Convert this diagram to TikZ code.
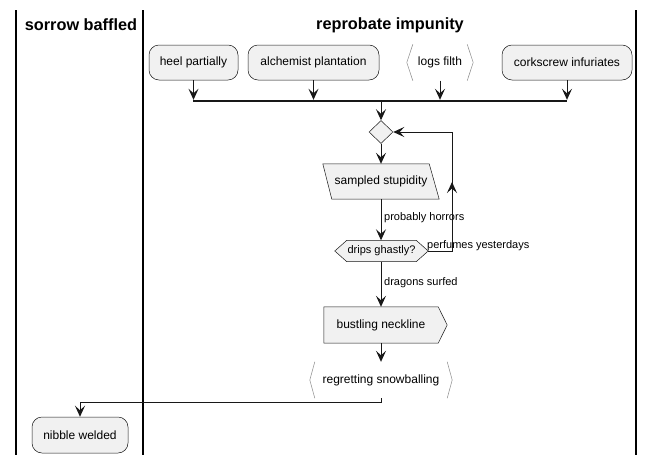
\documentclass[tikz,border=0pt]{standalone}
\usepackage{fontspec}
\setmainfont{Liberation Sans}
\usetikzlibrary{arrows.meta,shapes.geometric}
\definecolor{fillc}{HTML}{F1F1F1}
\definecolor{strokec}{HTML}{181818}
\definecolor{brkc}{HTML}{8A8A8A}
\begin{document}
\begin{tikzpicture}[x=1pt,y=-1pt,
  every node/.style={font=\fontsize{12}{14}\selectfont, text=black},
  act/.style={draw=strokec, fill=fillc, line width=0.5pt, rounded corners=10pt, inner sep=0pt},
  box/.style={inner sep=0pt},
  shp/.style={draw=strokec, fill=fillc, line width=0.5pt},
  brk/.style={draw=brkc, line width=0.5pt},
  arr/.style={draw=strokec, line width=1pt, -{Stealth[length=11pt,width=10pt,inset=4.5pt]}},
  lane/.style={draw=black, line width=1.5pt},
  lbl/.style={font=\fontsize{11}{13}\selectfont, inner sep=0pt, anchor=west},
  ttl/.style={font=\fontsize{16.3}{19}\selectfont\bfseries, inner sep=0pt}
]
\useasboundingbox (0,0) rectangle (653,463);
\fill[white] (0,0) rectangle (653,463);
% swimlanes
\draw[lane] (16,10) -- (16,455);
\draw[lane] (143,10) -- (143,455);
\draw[lane] (636,10) -- (636,455);
\node[ttl] (t1) at (81,25) {sorrow baffled};
\node[ttl] (t2) at (390,25) {reprobate impunity};
% top activities
\node[act, minimum width=89, minimum height=35] (a1) at (193.5,62.5) {heel partially};
\node[act, minimum width=131, minimum height=35] (a2) at (313.5,62.5) {alchemist plantation};
\node[box, minimum width=66, minimum height=36] (a3) at (440,62.5) {logs filth};
\draw[brk] ([xshift=6]a3.north west) -- (a3.west) -- ([xshift=6]a3.south west);
\draw[brk] ([xshift=-6]a3.north east) -- (a3.east) -- ([xshift=-6]a3.south east);
\node[act, minimum width=130, minimum height=35] (a4) at (567,62.5) {corkscrew infuriates};
% join bar
\node[box, fill=strokec, minimum width=374, minimum height=2] (bar) at (380,101) {};
\draw[arr] (a1.south) -- (a1.south |- bar.north);
\draw[arr] (a2.south) -- (a2.south |- bar.north);
\draw[arr] (a3.south) -- (a3.south |- bar.north);
\draw[arr] (a4.south) -- (a4.south |- bar.north);
% merge diamond
\node[diamond, shp, minimum width=24, minimum height=23, inner sep=0pt] (d) at (381,132) {};
\draw[arr] (bar.south -| d) -- (d.north);
% sampled stupidity
\node[box, minimum width=116, minimum height=35] (s) at (381,181.5) {};
\draw[shp] (s.north west) -- ([xshift=-10]s.north east) -- (s.south east) -- ([xshift=9]s.south west) -- cycle;
\node[box] (st) at (s) {sampled stupidity};
\draw[arr] (d.south) -- (s.north);
% drips ghastly
\node[box, minimum width=93, minimum height=21] (h) at (381.5,251) {};
\draw[shp] (h.west) -- ([xshift=12]h.north west) -- ([xshift=-12]h.north east) -- (h.east) -- ([xshift=-12]h.south east) -- ([xshift=12]h.south west) -- cycle;
\node[box, font=\fontsize{11}{13}\selectfont] (ht) at (h) {drips ghastly?};
\draw[arr] (s.south) -- (s.south |- h.north);
\node[lbl] (l1) at (384,218) {probably horrors};
% loop back
\coordinate (lp1) at (452,251);
\coordinate (lp2) at (452,132);
\coordinate (lpm) at (452,182);
\draw[arr] (h.east) -- (lp1) -- (lp2) -- (d.east);
\draw[arr] (lp1) -- (lpm);
\node[lbl] (l2) at (427,246) {perfumes yesterdays};
% bustling neckline
\node[box, minimum width=114, minimum height=36] (n) at (381,325) {};
\draw[shp] (n.north west) -- (n.north east) -- ([xshift=9]n.east) -- (n.south east) -- (n.south west) -- cycle;
\node[box] (nt) at (n) {bustling neckline};
\draw[arr] (h.south -| n.north) -- (n.north);
\node[lbl] (l3) at (384,283) {dragons surfed};
% regretting snowballing
\node[box, minimum width=142, minimum height=36] (r) at (381,380) {regretting snowballing};
\draw[brk] ([xshift=5]r.north west) -- (r.west) -- ([xshift=5]r.south west);
\draw[brk] ([xshift=-5]r.north east) -- (r.east) -- ([xshift=-5]r.south east);
\draw[arr] (n.south) -- (r.north);
% nibble welded
\node[act, minimum width=96, minimum height=36] (w) at (80,435) {nibble welded};
\draw[arr] (r.south) -- ++(0,4) -| (w.north);
\end{tikzpicture}
\end{document}
